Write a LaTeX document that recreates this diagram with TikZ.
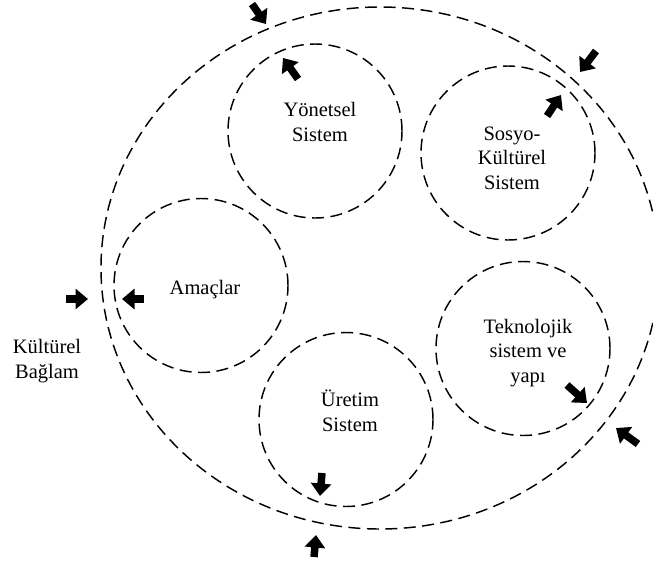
\documentclass[tikz,border=0pt]{standalone}
\usepackage{fontspec}
\setmainfont{Liberation Serif}
\usetikzlibrary{arrows.meta,shapes.geometric}
\begin{document}
\begin{tikzpicture}[x=1pt,y=-1pt,
  dashline/.style={dash pattern=on 12pt off 6.5pt, line width=1.45pt},
  subsys/.style={dashline, draw, circle, minimum size=174pt, inner sep=0pt},
  lbl/.style={align=center, font=\fontsize{20.5}{24.5}\selectfont, inner sep=0pt},
  blockarrow/.style={line width=7.5pt, -{Triangle[length=12.5pt,width=20pt]}}]
\useasboundingbox (0,0) rectangle (653,560);
\begin{scope}
\clip (0,0) rectangle (653,560);
\draw[dashline] (380,268) ellipse [x radius=279, y radius=261];
\end{scope}
% sub-systems
\node[subsys] (yon) at (315,131) {};
\node[subsys] (sos) at (508,153) {};
\node[subsys] (ama) at (201,285.5) {};
\node[subsys] (tek) at (523,348.5) {};
\node[subsys] (ure) at (346,419.5) {};
% labels
\node[lbl] (yontxt) at (320,122) {Yönetsel\\Sistem};
\node[lbl] (sostxt) at (512,158) {Sosyo-\\Kültürel\\Sistem};
\node[lbl] (amatxt) at (205,290) {Amaçlar};
\node[lbl] (tektxt) at (528,353) {Teknolojik\\sistem ve\\yapı};
\node[lbl] (uretxt) at (350,411) {Üretim\\Sistem};
\node[lbl] (kultxt) at (47,361) {Kültürel\\Bağlam};
% arrows
\coordinate (a1t) at (252,4);   \coordinate (a1h) at (266,24);
\coordinate (a2t) at (298,79);  \coordinate (a2h) at (283,58);
\coordinate (a3t) at (596,51);  \coordinate (a3h) at (580,72);
\coordinate (a4t) at (547,116); \coordinate (a4h) at (561,95);
\coordinate (a5t) at (66,299);  \coordinate (a5h) at (88,299);
\coordinate (a6t) at (144,299); \coordinate (a6h) at (122,299);
\coordinate (a7t) at (567,385); \coordinate (a7h) at (587,403);
\coordinate (a8t) at (638,444); \coordinate (a8h) at (616,428);
\coordinate (a9t) at (322,473); \coordinate (a9h) at (320,496);
\coordinate (a10t) at (314,557); \coordinate (a10h) at (316,535);
\foreach \i in {1,...,10} \draw[blockarrow] (a\i t) -- (a\i h);
\end{tikzpicture}
\end{document}
